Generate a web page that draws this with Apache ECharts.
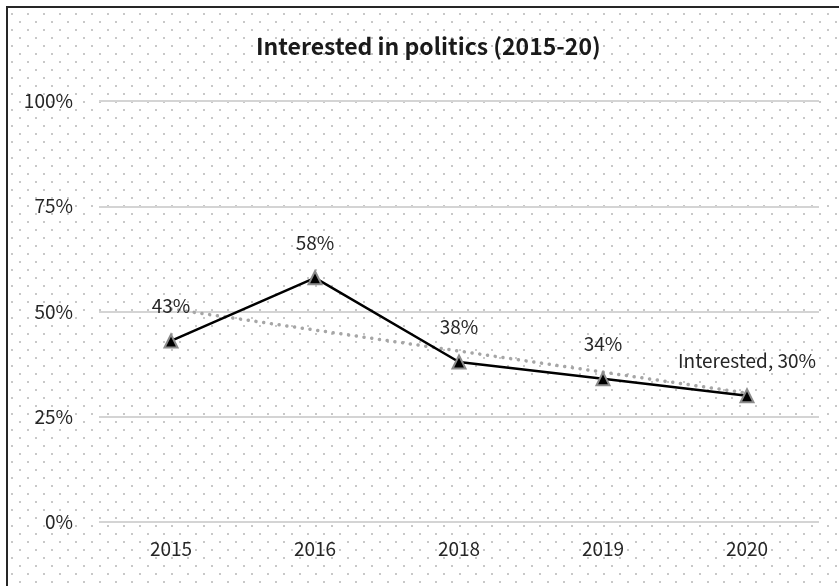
<!DOCTYPE html>
<html>
<head>
<meta charset="utf-8">
<script src="https://cdn.jsdelivr.net/npm/echarts@6/dist/echarts.min.js"></script>
<style>
html,body{margin:0;padding:0;background:#fff;}
#chart{width:839px;height:586px;}
</style>
</head>
<body>
<div id="chart"></div>
<script>
var titleText = 'Interested in politics (2015-20)';
var categories = ['2015', '2016', '2018', '2019', '2020'];
var interested = [43, 58, 38, 34, 30];
var trend = [50.6, 45.6, 40.6, 35.6, 30.6];
var yTicks = [0, 25, 50, 75, 100];

var FONT = '"Noto Sans CJK KR", "Noto Sans", sans-serif';

// dotted background tile
var tile = document.createElement('canvas');
tile.width = 16; tile.height = 16;
var tc = tile.getContext('2d');
tc.fillStyle = '#ffffff';
tc.fillRect(0, 0, 16, 16);
tc.fillStyle = '#c8c8c8';
tc.fillRect(3, 5, 2, 2);
tc.fillRect(11, 13, 2, 2);

var chart = echarts.init(document.getElementById('chart'), null, {renderer: 'canvas'});
var option = {
  backgroundColor: '#ffffff',
  animation: false,
  graphic: [{
    type: 'rect',
    z: -10,
    silent: true,
    shape: {x: 7, y: 7, width: 860, height: 620},
    style: {fill: {image: tile, repeat: 'repeat'}, stroke: '#262626', lineWidth: 2}
  }],
  title: {
    text: titleText,
    left: 251,
    top: 30,
    textStyle: {fontFamily: FONT, fontSize: 23, fontWeight: 'bold', color: '#1a1a1a'}
  },
  grid: {left: 99, right: 20, top: 101, bottom: 64, containLabel: false},
  xAxis: {
    type: 'category',
    data: categories,
    boundaryGap: true,
    axisLine: {show: false},
    axisTick: {show: false},
    axisLabel: {fontFamily: FONT, fontSize: 19, color: '#262626', margin: 17}
  },
  yAxis: {
    type: 'value',
    min: 0, max: 100, interval: 25,
    axisLine: {show: false},
    axisTick: {show: false},
    splitLine: {lineStyle: {color: '#d4d4d4', width: 2}},
    axisLabel: {
      fontFamily: FONT, fontSize: 19, color: '#262626', margin: 26,
      formatter: function (v) { return yTicks.indexOf(v) >= 0 ? v + '%' : ''; }
    }
  },
  series: [{
    name: 'Trend',
    type: 'line',
    data: trend,
    symbol: 'none',
    z: 2,
    lineStyle: {color: '#a6a6a6', width: 3.5, type: [0.1, 7.7], cap: 'round'}
  }, {
    name: 'Interested',
    type: 'line',
    data: interested,
    z: 3,
    symbol: 'triangle',
    symbolSize: 13,
    itemStyle: {color: '#000000', borderColor: '#8c8c8c', borderWidth: 2},
    lineStyle: {color: '#000000', width: 2.5},
    label: {
      show: true,
      position: 'top',
      distance: 18,
      fontFamily: FONT, fontSize: 19, color: '#262626',
      formatter: function (p) {
        return p.dataIndex === interested.length - 1 ? 'Interested, ' + p.value + '%' : p.value + '%';
      }
    }
  }]
};
chart.setOption(option);
</script>
</body>
</html>
